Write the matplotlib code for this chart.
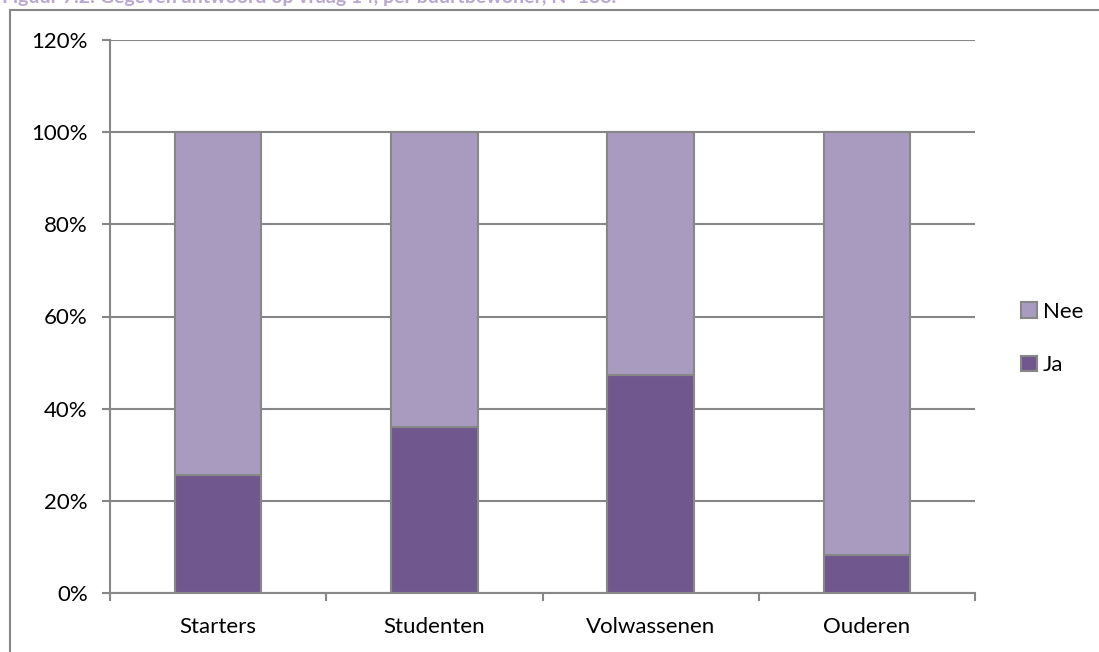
import matplotlib.pyplot as plt
from matplotlib.patches import Rectangle
from matplotlib.ticker import PercentFormatter

categories = ["Starters", "Studenten", "Volwassenen", "Ouderen"]
ja = [25.6, 36.0, 47.3, 8.2]
nee = [100 - v for v in ja]

plt.rcParams['font.family'] = ['Lato', 'DejaVu Sans']
grey = '#878787'

fig = plt.figure(figsize=(10.99, 6.52), dpi=100)
ax = fig.add_axes([110 / 1099, 59 / 652, 865 / 1099, 553 / 652])

x = range(len(categories))
ax.bar(x, ja, width=0.4, color='#70588f', edgecolor=grey, linewidth=1.5, label='Ja', zorder=3)
ax.bar(x, nee, width=0.4, bottom=ja, color='#a99bbf', edgecolor=grey, linewidth=1.5, label='Nee', zorder=3)

ax.set_xlim(-0.5, 3.5)
ax.set_ylim(0, 120)
ax.set_yticks(range(0, 121, 20))
ax.yaxis.set_major_formatter(PercentFormatter(decimals=0))
ax.yaxis.grid(True, color=grey, linewidth=1.5, zorder=0)

ax.set_xticks([-0.5, 0.5, 1.5, 2.5, 3.5])
ax.set_xticklabels([])
ax.set_xticks(list(x), minor=True)
ax.set_xticklabels(categories, minor=True)
ax.tick_params(axis='x', which='major', length=6, width=1.5, color=grey)
ax.tick_params(axis='x', which='minor', length=0, pad=17, labelsize=16)
ax.tick_params(axis='y', length=6, width=1.5, color=grey, labelsize=16, pad=10)

for s in ['top', 'right']:
    ax.spines[s].set_visible(False)
for s in ['left', 'bottom']:
    ax.spines[s].set_color(grey)
    ax.spines[s].set_linewidth(1.5)

handles, labels = ax.get_legend_handles_labels()
ax.legend(handles[::-1], labels[::-1], loc='center left', bbox_to_anchor=(1.03, 0.46),
          frameon=False, fontsize=16, handlelength=0.7, handleheight=0.7,
          handletextpad=0.3, labelspacing=1.5)

# outer chart frame
fig.patches.append(Rectangle((10 / 1099, -0.1), 1.2, 1 - 10 / 652 + 0.1,
                             transform=fig.transFigure, fill=False,
                             edgecolor=grey, linewidth=1.5))

# title, partly cut off at the top as in the source
fig.text(2 / 1099, 1 - 3 / 652, "Figuur 7.2: Gegeven antwoord op vraag 14, per buurtbewoner, N=138.",
         fontsize=14, fontweight='bold', color='#b9a7d3', va='baseline')

fig.savefig("out.png", dpi=100)
